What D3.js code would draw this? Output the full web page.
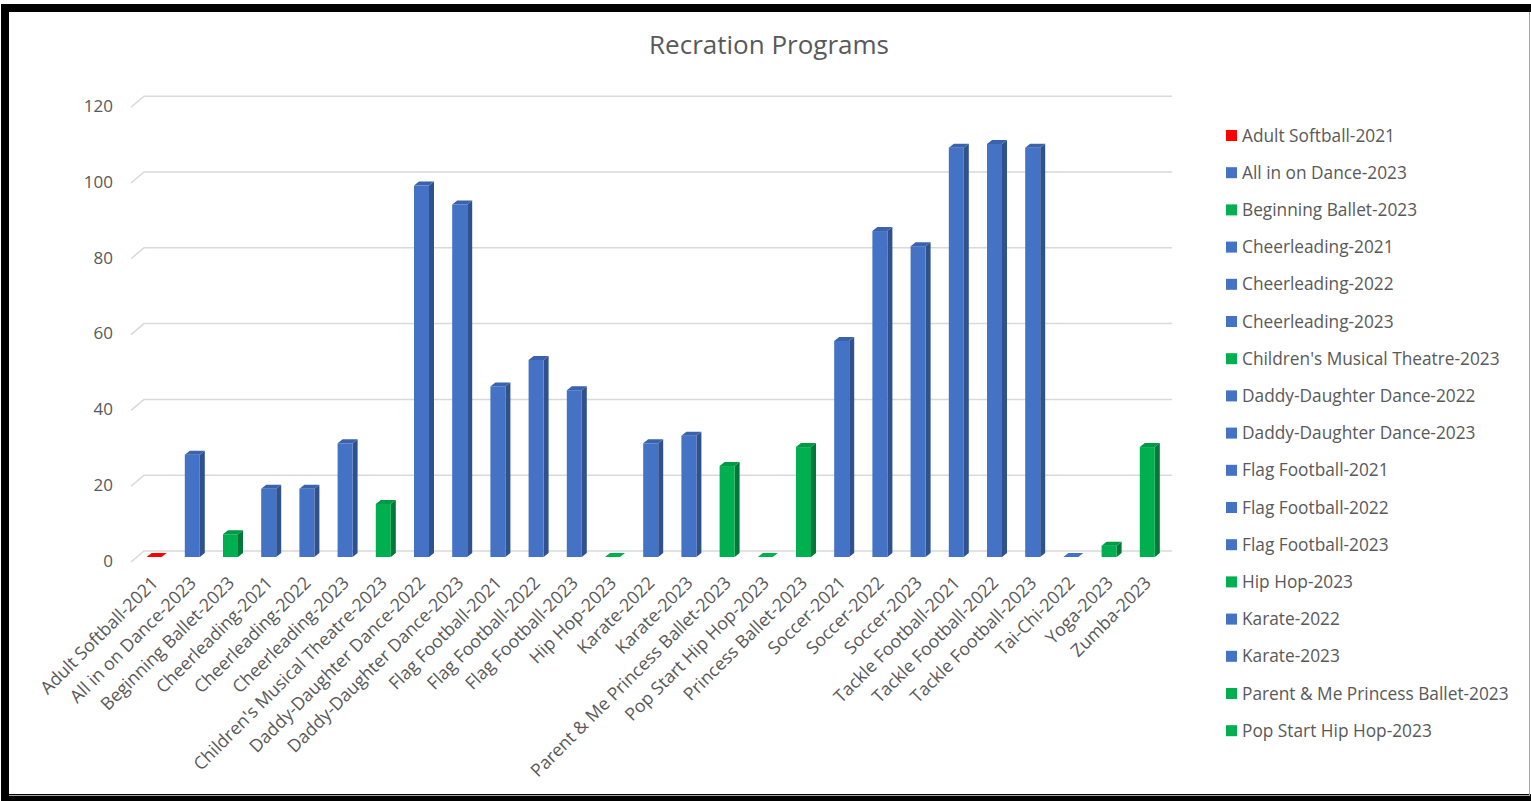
<!DOCTYPE html>
<html>
<head>
<meta charset="utf-8">
<script src="https://cdn.jsdelivr.net/npm/d3@7"></script>
<style>
  html, body { margin: 0; padding: 0; background: #fff; }
  svg { display: block; }
  text { font-family: "Open Sans", "Noto Sans", sans-serif; fill: #595959; }
</style>
</head>
<body>
<svg id="chart" width="1531" height="801"></svg>
<script>
const title = "Recration Programs";
const categories = [
  "Adult Softball-2021", "All in on Dance-2023", "Beginning Ballet-2023",
  "Cheerleading-2021", "Cheerleading-2022", "Cheerleading-2023",
  "Children's Musical Theatre-2023", "Daddy-Daughter Dance-2022", "Daddy-Daughter Dance-2023",
  "Flag Football-2021", "Flag Football-2022", "Flag Football-2023",
  "Hip Hop-2023", "Karate-2022", "Karate-2023",
  "Parent & Me Princess Ballet-2023", "Pop Start Hip Hop-2023", "Princess Ballet-2023",
  "Soccer-2021", "Soccer-2022", "Soccer-2023",
  "Tackle Football-2021", "Tackle Football-2022", "Tackle Football-2023",
  "Tai-Chi-2022", "Yoga-2023", "Zumba-2023"
];
const values = [0, 27, 6, 18, 18, 30, 14, 98, 93, 45, 52, 44, 0, 30, 32, 24, 0, 29, 57, 86, 82, 108, 109, 108, 0, 3, 29];
const groups = ["red", "blue", "green", "blue", "blue", "blue", "green", "blue", "blue", "blue", "blue", "blue",
  "green", "blue", "blue", "green", "green", "green", "blue", "blue", "blue", "blue", "blue", "blue", "blue", "green", "green"];
const yTicks = [0, 20, 40, 60, 80, 100, 120];
const legendCount = 17;

const palette = {
  red:   { front: "#FF0000", side: "#C00000", top: "#E00000" },
  blue:  { front: "#4472C4", side: "#2F528F", top: "#3B63AD" },
  green: { front: "#00B050", side: "#00783A", top: "#009A45" }
};

const svg = d3.select("#chart");

// Frame
svg.append("rect").attr("x", 0).attr("y", 0).attr("width", 1531).attr("height", 801).attr("fill", "#fff");
svg.append("rect").attr("x", 5).attr("y", 8).attr("width", 1540).attr("height", 790)
  .attr("fill", "none").attr("stroke", "#000").attr("stroke-width", 8);
svg.append("line").attr("x1", 1529.5).attr("x2", 1529.5).attr("y1", 12).attr("y2", 795)
  .attr("stroke", "#a6a6a6").attr("stroke-width", 1);
svg.append("line").attr("x1", 9).attr("x2", 1530).attr("y1", 795.5).attr("y2", 795.5)
  .attr("stroke", "#a6a6a6").attr("stroke-width", 1);

// Title
svg.append("text").attr("x", 769).attr("y", 54).attr("text-anchor", "middle")
  .style("font-size", "26px").text(title);

// Scales
const x = d3.scaleBand().domain(categories).range([135, 135 + 27 * 38.2]).padding(0);
const y = d3.scaleLinear().domain([0, 120]).range([557, 557 - 120 * 3.79]);

const depthX = 13, depthY = 11;
const backRight = 1172;

// Gridlines (back wall + floor slant)
const grid = svg.append("g");
yTicks.forEach(v => {
  const yb = y(v) - 6;
  grid.append("path")
    .attr("d", `M131,${yb + depthY} L${131 + depthX},${yb} L${backRight},${yb}`)
    .attr("fill", "none").attr("stroke", "#d9d9d9").attr("stroke-width", 1.5);
});

// Y axis labels
const yAxis = d3.axisLeft(y).tickValues(yTicks).tickSize(0).tickPadding(0);
const yg = svg.append("g").attr("transform", "translate(113,0)").call(yAxis);
yg.select(".domain").remove();
yg.selectAll("text").style("font-size", "17px").attr("font-family", null)
  .attr("dy", "0.55em").attr("fill", null);

// Bars
const bw = 15, sd = 5, tdy = 4;
const bars = svg.append("g");
categories.forEach((c, i) => {
  const v = values[i];
  const col = palette[groups[i]];
  const cx = x(c) + x.bandwidth() / 2;
  const x0 = cx - bw / 2, x1 = cx + bw / 2;
  const yt = y(v), yb = y(0);
  if (v > 0) {
    bars.append("path")
      .attr("d", `M${x1},${yb} L${x1 + sd},${yb - tdy} L${x1 + sd},${yt - tdy} L${x1},${yt} Z`)
      .attr("fill", col.side);
    bars.append("rect").attr("x", x0).attr("y", yt).attr("width", bw).attr("height", yb - yt)
      .attr("fill", col.front);
    bars.append("path")
      .attr("d", `M${x0},${yt} L${x1},${yt} L${x1 + sd},${yt - tdy} L${x0 + sd},${yt - tdy} Z`)
      .attr("fill", col.top);
  } else {
    bars.append("path")
      .attr("d", `M${x0},${yt} L${x1},${yt} L${x1 + sd},${yt - tdy} L${x0 + sd},${yt - tdy} Z`)
      .attr("fill", col.front);
  }
});

// X labels
const xl = svg.append("g");
categories.forEach(c => {
  const cx = x(c) + x.bandwidth() / 2;
  xl.append("text")
    .attr("transform", `translate(${cx + 5},${584}) rotate(-45)`)
    .attr("text-anchor", "end")
    .style("font-size", "17.8px")
    .text(c);
});

// Legend
const lg = svg.append("g");
for (let i = 0; i < legendCount; i++) {
  const yy = 135 + i * 37.2;
  lg.append("rect").attr("x", 1226).attr("y", yy - 5).attr("width", 11).attr("height", 11)
    .attr("fill", palette[groups[i]].front);
  lg.append("text").attr("x", 1242).attr("y", yy).attr("dy", "0.38em")
    .style("font-size", "17.3px").text(categories[i]);
}
</script>
</body>
</html>
